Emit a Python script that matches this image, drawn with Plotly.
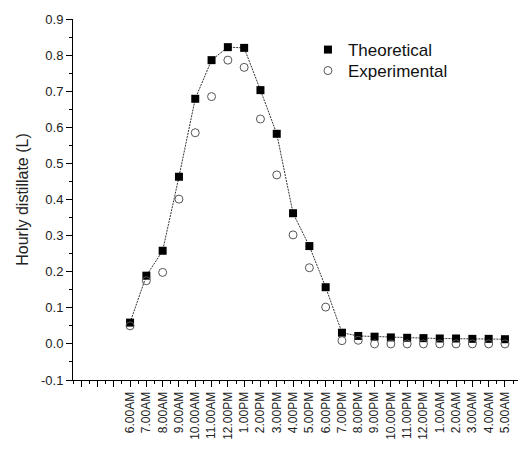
import plotly.graph_objects as go

hours = ["6.00AM", "7.00AM", "8.00AM", "9.00AM", "10.00AM", "11.00AM", "12.00PM",
         "1.00PM", "2.00PM", "3.00PM", "4.00PM", "5.00PM", "6.00PM", "7.00PM",
         "8.00PM", "9.00PM", "10.00PM", "11.00PM", "12.00PM", "1.00AM", "2.00AM",
         "3.00AM", "4.00AM", "5.00AM"]

theoretical = [0.059, 0.189, 0.258, 0.463, 0.679, 0.786, 0.822, 0.820, 0.703, 0.582,
               0.362, 0.271, 0.157, 0.031, 0.022, 0.020, 0.018, 0.017, 0.016, 0.015,
               0.015, 0.014, 0.014, 0.013]

experimental = [0.050, 0.175, 0.198, 0.401, 0.585, 0.685, 0.786, 0.766, 0.623, 0.468,
                0.302, 0.211, 0.102, 0.009, 0.010, 0.0, 0.0, 0.0, 0.0, 0.0,
                0.0, 0.0, 0.0, 0.0]

y_ticks = [-0.1, 0.0, 0.1, 0.2, 0.3, 0.4, 0.5, 0.6, 0.7, 0.8, 0.9]
y_ticktext = ["-0.1", "0.0", "0.1", "0.2", "0.3", "0.4", "0.5", "0.6", "0.7", "0.8", "0.9"]

xi = list(range(len(hours)))

fig = go.Figure()
fig.add_trace(go.Scatter(
    x=xi, y=theoretical, mode="lines", showlegend=False, hoverinfo="skip",
    line=dict(color="#333333", width=1, dash="2px,1px"),
))
fig.add_trace(go.Scatter(
    x=xi, y=theoretical, mode="markers", name="Theoretical", legend="legend",
    marker=dict(symbol="square", size=8, color="black"),
))
fig.add_trace(go.Scatter(
    x=xi, y=experimental, mode="markers", name="Experimental", legend="legend2",
    marker=dict(symbol="circle-open", size=8, color="#555555", line=dict(width=1)),
))

tickvals = list(range(-3, len(hours)))
ticktext = [""] * 3 + hours

font = "Liberation Sans, Arial, sans-serif"
leg_common = dict(x=0.528, xanchor="left", yanchor="middle",
                  font=dict(size=17, color="#111111"), bgcolor="rgba(0,0,0,0)",
                  itemwidth=30)
fig.update_layout(
    width=518, height=453,
    margin=dict(l=73, r=0, t=19, b=73),
    paper_bgcolor="white", plot_bgcolor="white",
    font=dict(family=font, color="#222222"),
    showlegend=True,
    legend=dict(y=0.914, **leg_common),
    legend2=dict(y=0.856, **leg_common),
    xaxis=dict(
        range=[-3.5, 23.8], tickmode="array", tickvals=tickvals, ticktext=ticktext,
        tickangle=-90, tickfont=dict(size=12, color="#222222"),
        showline=True, linecolor="black", linewidth=1,
        ticks="outside", ticklen=6, tickcolor="black",
        showgrid=False, zeroline=False,
        minor=dict(tickmode="linear", tick0=-3.5, dtick=1, ticks="outside",
                   ticklen=3, tickcolor="black", showgrid=False),
    ),
    yaxis=dict(
        range=[-0.1, 0.9], tickmode="array", tickvals=y_ticks, ticktext=y_ticktext,
        tickfont=dict(size=13, color="#222222"),
        showline=True, linecolor="black", linewidth=1,
        ticks="outside", ticklen=6, tickcolor="black",
        showgrid=False, zeroline=False,
        minor=dict(tickmode="linear", tick0=-0.05, dtick=0.1, ticks="outside",
                   ticklen=3, tickcolor="black", showgrid=False),
        title=dict(text="Hourly distillate (L)", font=dict(size=16, color="#222222"),
                   standoff=8),
    ),
)

fig.write_html("out.html")
